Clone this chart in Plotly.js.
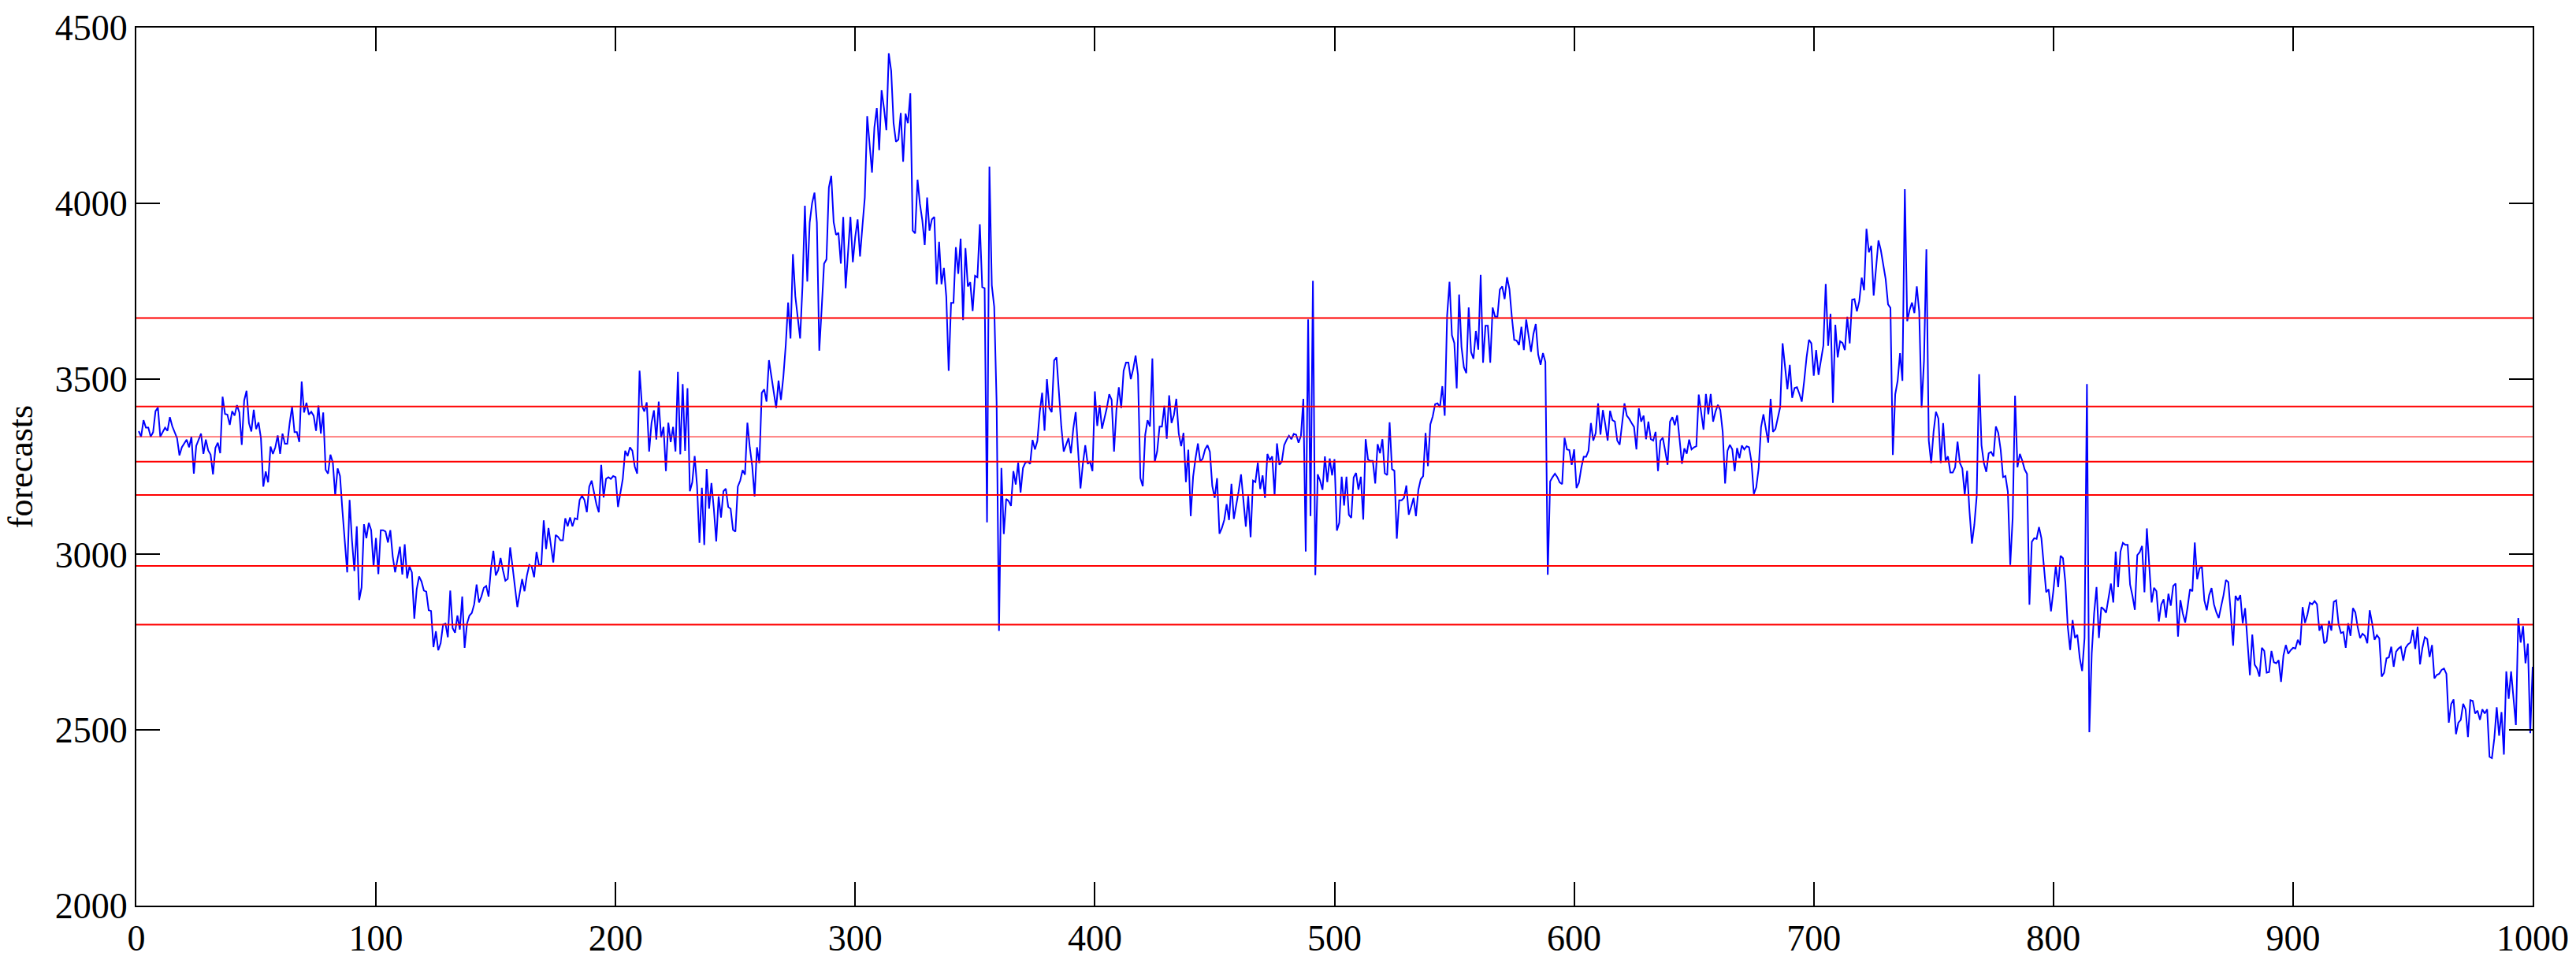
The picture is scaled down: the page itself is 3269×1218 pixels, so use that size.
<!DOCTYPE html>
<html>
<head>
<meta charset="utf-8">
<script src="https://cdn.plot.ly/plotly-3.0.1.min.js"></script>
<style>
  html, body { margin: 0; padding: 0; background: #ffffff; }
  #chart { width: 3269px; height: 1218px; }
</style>
</head>
<body>
<div id="chart"></div>
<script>
// ---------- data ----------
const xTickValues = [0, 100, 200, 300, 400, 500, 600, 700, 800, 900, 1000];
const yTickValues = [2000, 2500, 3000, 3500, 4000, 4500];
const yAxisTitle = "forecasts";

// horizontal reference levels (red lines)
const levels = [3673, 3421, 3335, 3264, 3169, 2967, 2800];

// forecast series: sample index and value
const idx = [
1,2,3,4,5,6,7,8,9,10,11,12,13,14,15,17,18,19,21,22,23,24,25,27,28,29,30,31,32,33,34,35,36,37,38,39,40,
41,42,43,44,45,46,47,48,49,50,51,52,53,54,55,56,57,58,59,60,61,62,63,64,65,66,67,68,69,70,71,72,73,74,75,
76,77,78,79,80,81,82,83,84,85,86,87,88,89,90,91,92,93,94,95,96,97,98,99,100,101,102,103,104,105,106,107,108,
109,110,111,112,113,114,115,116,117,118,119,120,121,122,123,124,125,126,127,128,129,130,131,132,133,134,135,
136,137,138,139,140,141,142,143,
144,145,146,147,148,149,150,151,152,153,154,155,156,157,158,159,161,162,163,164,165,166,167,168,169,170,171,172,
174,175,176,177,178,179,180,181,182,183,184,185,186,187,188,189,190,191,192,193,194,195,196,197,198,199,200,
201,202,203,204,205,206,207,208,209,210,211,212,213,214,215,216,217,218,219,220,221,222,223,224,225,226,227,
228,229,230,231,232,233,234,235,236,237,238,239,240,241,242,243,244,245,246,247,248,249,250,251,252,253,254,
255,256,257,258,259,260,261,262,263,264,265,266,267,268,269,270,271,272,273,274,275,276,277,278,279,280,281,
282,283,284,285,286,
287,288,289,290,291,292,293,294,295,296,297,298,299,300,301,302,303,304,305,306,307,308,309,310,311,312,313,
314,315,316,317,318,319,320,321,322,323,324,325,326,327,328,329,330,331,332,333,334,335,336,337,338,339,340,
341,342,343,344,345,346,347,348,349,350,351,352,353,354,355,356,357,358,359,360,361,362,363,364,365,366,367,
368,369,370,371,372,373,374,375,376,377,378,379,380,381,382,383,384,385,386,387,388,389,390,391,392,393,394,
395,396,397,398,399,400,401,402,403,404,405,406,407,408,409,410,411,412,413,414,415,416,417,418,419,420,421,
422,423,424,425,426,427,428,429,
430,431,432,433,434,435,436,437,438,439,440,441,442,443,444,445,446,447,448,449,450,451,452,453,454,455,456,
457,458,459,460,461,462,463,464,465,466,467,468,469,470,471,472,473,474,475,476,477,478,479,480,481,482,483,
484,485,486,487,488,489,490,491,492,493,494,495,496,497,498,499,500,501,502,503,504,505,506,507,508,509,510,
511,512,513,514,515,516,517,518,519,520,521,522,523,524,525,526,527,528,529,530,531,532,533,534,535,536,537,
538,539,540,541,542,543,544,545,546,547,548,549,550,551,552,553,554,555,556,557,558,559,560,561,562,563,564,
565,566,567,568,569,570,571,572,
573,574,575,576,577,578,579,580,581,582,583,584,585,586,587,588,589,590,591,592,593,594,595,596,597,598,599,
600,601,602,603,604,605,606,607,608,609,610,611,612,613,614,615,616,617,618,619,620,621,622,623,624,625,626,
627,628,629,630,631,632,633,634,635,636,637,638,639,640,641,642,643,644,645,646,647,648,649,650,651,652,653,
654,655,656,657,658,659,660,661,662,663,664,665,666,667,668,669,670,671,672,673,674,675,676,677,678,679,680,
681,682,683,684,685,686,687,688,689,690,691,692,693,694,695,696,697,698,699,700,701,702,703,704,705,706,707,
708,709,710,711,712,713,714,715,
716,717,718,719,720,721,722,723,724,725,726,727,728,729,730,731,732,733,734,735,736,737,738,739,740,741,742,
743,744,745,746,747,748,749,750,751,752,753,754,755,756,757,758,759,760,761,762,763,764,765,766,767,768,769,
770,771,772,773,774,775,776,777,778,779,780,781,782,783,784,785,786,787,788,789,790,791,792,793,794,795,796,
797,798,799,800,801,802,803,804,805,806,807,808,809,810,811,812,813,814,815,816,817,818,819,820,821,822,823,
824,825,826,827,828,829,830,831,832,833,834,835,836,837,838,839,840,841,842,843,844,845,846,847,848,849,850,
851,852,853,854,855,856,857,858,
859,860,861,862,863,864,865,866,867,868,869,870,871,872,873,874,875,876,877,878,879,880,881,882,883,884,885,
886,887,888,889,890,891,892,893,894,895,896,897,898,899,900,901,902,903,904,905,906,907,908,909,910,911,912,
913,914,915,916,917,918,919,920,921,922,923,924,925,926,927,928,929,930,931,932,933,934,935,936,937,938,939,
940,941,942,943,944,945,946,947,948,949,950,951,952,953,954,955,956,957,958,959,960,961,962,963,964,965,966,
967,968,969,970,971,972,973,974,975,976,977,978,979,980,981,982,983,984,985,986,987,988,989,990,991,992,993,
994,995,996,997,998,999,1000
];

const forecasts = [
3351,3335,3382,3361,3361,3335,3348,3408,3418,3335,3348,3361,3352,3391,3365,3331,3282,3305,3327,3305,3335,3230,3309,3344,3286,3327,3296,3284,3228,3303,3318,3288,3449,3400,3398,3369,3408,
3395,3425,3404,3312,3438,3466,3374,3350,3412,3357,3376,3331,3193,3236,3205,3307,3286,3305,3339,3286,3344,3315,3315,3374,3421,3348,3348,3320,3492,3404,3432,3398,3406,3395,3352,
3424,3344,3404,3241,3230,3284,3262,3168,3245,3223,3125,3039,2949,3155,3039,2953,3080,2870,2906,3086,3046,3090,3069,2966,3047,2944,3069,3069,3065,3034,3069,2994,2949,
2986,3022,2943,3029,2932,2966,2949,2817,2901,2937,2923,2897,2894,2841,2839,2736,2781,2727,2747,2800,2803,2764,2897,2790,2777,2826,2786,
2880,2734,2803,2826,2833,2858,2914,2863,
2880,2905,2910,2880,2960,3010,2940,2955,2990,2955,2925,2930,3020,2965,2905,2850,2930,2895,2940,2970,2965,2935,3007,2970,2970,3097,3015,3075,
2977,3055,3050,3040,3040,3103,3080,3105,3080,3103,3100,3155,3167,3155,3120,3193,3210,3175,3143,3120,3255,3162,3215,3220,3215,3223,3220,
3135,3180,3215,3295,3280,3305,3295,3250,3230,3523,3423,3407,3433,3293,3375,3410,3327,3435,3333,3363,3237,3375,3320,3363,3293,3520,3285,
3485,3295,3473,3180,3205,3280,3195,3033,3190,3027,3243,3130,3203,3130,3037,3165,3105,3180,3187,3135,3130,3070,3065,3193,3210,3240,3227,
3375,3305,3253,3165,3305,3260,3460,3470,3435,3553,3510,3460,3417,3495,3440,3505,3595,3717,3615,3855,3735,3675,3615,3765,3993,3777,3945,
4000,4030,3945,3580,3700,
3828,3840,4045,4078,3946,3910,3916,3828,3961,3758,3852,3961,3832,3904,3954,3848,3934,4016,4248,4157,4087,4216,4271,4151,4322,4271,4208,
4427,4377,4228,4175,4181,4257,4118,4255,4228,4313,3922,3914,4067,3998,3951,3881,4016,3922,3954,3961,3769,3890,3769,3816,3734,3523,3716,
3716,3875,3799,3899,3667,3872,3763,3775,3693,3793,3789,3940,3761,3758,3091,4104,3766,3705,3434,2782,3246,3058,3158,3152,3138,3237,3199,
3261,3176,3246,3261,3264,3258,3326,3299,3323,3405,3460,3352,3499,3417,3405,3552,3561,3458,3364,3293,3311,3331,3288,3358,3405,3299,3188,
3258,3311,3258,3264,3237,3464,3366,3425,3358,3387,3417,3456,3440,3293,3411,3476,3417,3523,3546,3546,3499,3528,3566,3511,3217,3194,3340,
3382,3364,3558,3264,3293,3364,3364,3423,
3329,3453,3374,3397,3443,3344,3308,3346,3206,3298,3109,3221,3273,3316,3264,3273,3299,3311,3292,3195,3161,3217,3059,3075,3098,3143,3098,
3201,3101,3139,3180,3228,3157,3079,3166,3049,3210,3206,3261,3186,3225,3161,3286,3268,3279,3169,3316,3255,3264,3311,3326,3338,3328,3343,
3341,3318,3338,3443,3008,3669,3109,3779,2941,3228,3210,3184,3279,3206,3273,3225,3271,3068,3090,3221,3139,3221,3113,3104,3219,3232,3184,
3221,3099,3328,3270,3266,3266,3202,3314,3288,3328,3231,3226,3376,3243,3238,3045,3154,3154,3161,3196,3113,3135,3161,3109,3184,3214,3223,
3346,3251,3370,3393,3428,3430,3419,3479,3395,3680,3776,3624,3602,3473,3740,3591,3533,3516,3703,3576,3557,3636,3583,3796,3546,3651,3651,
3546,3703,3677,3677,3754,3763,3727,3789,
3756,3677,3611,3609,3596,3648,3582,3669,3623,3577,3627,3656,3569,3540,3573,3548,2942,3208,3220,3230,3220,3205,3200,3332,3299,3297,3255,
3299,3189,3204,3247,3278,3278,3295,3374,3324,3345,3430,3341,3411,3370,3324,3409,3382,3378,3324,3312,3370,3430,3395,3386,3374,3363,3299,
3416,3378,3395,3328,3378,3328,3324,3349,3237,3324,3332,3295,3255,3378,3391,3368,3396,3328,3258,3302,3287,3327,3299,3305,3308,3455,3407,
3355,3457,3399,3457,3378,3407,3426,3411,3349,3202,3295,3312,3299,3237,3303,3274,3310,3299,3308,3305,3264,3172,3191,3245,3362,3399,3362,
3318,3443,3349,3357,3386,3420,3601,3528,3470,3540,3446,3474,3476,3457,3435,3494,3561,3611,3601,3509,3582,3511,3553,3594,3770,3594,3685,
3432,3654,3561,3607,3602,3582,3677,3601,
3725,3727,3692,3721,3788,3752,3927,3860,3879,3737,3816,3894,3866,3828,3784,3712,3702,3283,3456,3494,3573,3494,4040,3664,3696,3717,3687,
3763,3692,3418,3551,3869,3324,3260,3349,3406,3387,3260,3374,3267,3279,3233,3233,3248,3321,3260,3245,3170,3238,3122,3031,3084,3166,3513,
3311,3260,3235,3288,3292,3279,3364,3346,3298,3220,3223,3178,2970,3103,3452,3248,3286,3267,3242,3229,2857,3036,3046,3044,3078,3046,2970,
2892,2901,2838,2897,2968,2907,2996,2989,2920,2794,2728,2813,2762,2771,2705,2668,2762,3485,2494,2718,2832,2907,2762,2850,2844,2834,2876,
2917,2863,3008,2907,3008,3033,3027,3027,2914,2882,2842,2998,3006,3024,2892,3074,2970,2863,2905,2895,2809,2857,2872,2820,2888,2854,2910,
2917,2766,2870,2832,2806,2850,2901,2895,
3034,2929,2961,2963,2869,2841,2884,2904,2858,2835,2819,2852,2884,2927,2921,2835,2740,2882,2869,2884,2804,2847,2744,2656,2772,2686,2675,
2652,2734,2725,2663,2665,2725,2693,2690,2699,2637,2712,2742,2717,2727,2734,2732,2757,2742,2850,2805,2828,2862,2858,2867,2858,2783,2800,
2747,2753,2811,2783,2865,2869,2802,2776,2779,2734,2804,2768,2847,2835,2792,2762,2774,2768,2747,2841,2805,2757,2770,2761,2652,2663,2704,
2707,2737,2680,2723,2732,2737,2697,2734,2744,2749,2785,2731,2794,2687,2734,2764,2759,2708,2742,2647,2657,2660,2671,2675,2660,2521,2574,
2587,2488,2521,2529,2575,2559,2480,2585,2583,2547,2555,2529,2559,2547,2559,2424,2420,2476,2565,2484,2551,2430,2667,2589,2667,2596,2514,
2819,2749,2796,2690,2746,2491,2680
];

// ---------- styles ----------
const levelLineWidths = [2, 2, 1, 2, 2, 2, 2];
const FONT = "Liberation Serif, Times New Roman, serif";

const traces = [{
  type: "scatter",
  mode: "lines",
  x: idx,
  y: forecasts,
  line: { color: "#0000ff", width: 2 },
  hoverinfo: "skip",
  showlegend: false
}];

const shapes = levels.map((v, i) => ({
  type: "line",
  xref: "paper", x0: 0, x1: 1,
  yref: "y", y0: v, y1: v,
  line: { color: "#ff0000", width: levelLineWidths[i] },
  layer: "above"
}));

const axisCommon = {
  showgrid: false,
  zeroline: false,
  showline: true,
  linecolor: "#000000",
  linewidth: 2,
  mirror: "ticks",
  ticks: "inside",
  ticklen: 30,
  tickwidth: 2,
  tickcolor: "#000000",
  tickfont: { family: FONT, size: 46, color: "#000000" }
};

const layout = {
  width: 3269,
  height: 1218,
  margin: { l: 173, r: 55, t: 35, b: 69, pad: 0 },
  paper_bgcolor: "#ffffff",
  plot_bgcolor: "#ffffff",
  showlegend: false,
  font: { family: FONT, color: "#000000" },
  xaxis: Object.assign({}, axisCommon, {
    range: [0, 1000],
    tickmode: "array",
    tickvals: xTickValues,
    ticktext: xTickValues.map(String)
  }),
  yaxis: Object.assign({}, axisCommon, {
    range: [2000, 4500],
    tickmode: "array",
    tickvals: yTickValues,
    ticktext: yTickValues.map(String),
    title: { text: yAxisTitle, font: { family: FONT, size: 44, color: "#000000" }, standoff: 14 }
  }),
  shapes: shapes
};

Plotly.newPlot("chart", traces, layout, { staticPlot: true, displayModeBar: false });
</script>
</body>
</html>
